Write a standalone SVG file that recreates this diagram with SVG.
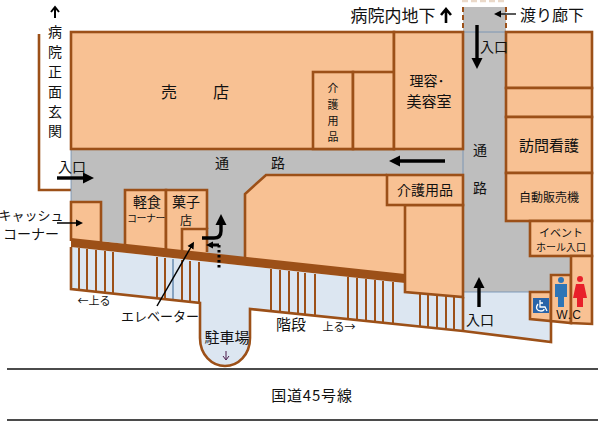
<svg xmlns="http://www.w3.org/2000/svg" width="600" height="423" viewBox="0 0 600 423">
<style>
text{font-family:"Noto Sans CJK JP","Liberation Sans",sans-serif;fill:#111;text-anchor:middle}
.r{fill:#F8C193;stroke:#9C5018;stroke-width:2.6;stroke-linejoin:miter}
.w{fill:none;stroke:#9C5018;stroke-width:2.6}
.s{fill:none;stroke:#9C5018;stroke-width:2}
.t{fill:none;stroke:#6A8CB0;stroke-width:.8}
.a{fill:none;stroke:#000;stroke-width:3.4}
.n{fill:none;stroke:#000;stroke-width:1.5}
.o{fill:#F8C193}
.f17{font-size:17px}.f16{font-size:16px}.f15{font-size:15px}.f14{font-size:14px}.f13{font-size:13px}.f12{font-size:12px}.f11{font-size:11px}.f10{font-size:10px}
</style>
<defs>
<marker id="big" markerUnits="userSpaceOnUse" markerWidth="12" markerHeight="12" refX="1" refY="6" orient="auto"><path d="M0,.5L11,6L0,11.5Z" fill="#000"/></marker>
<marker id="sm" markerUnits="userSpaceOnUse" markerWidth="8" markerHeight="8" refX="1" refY="4" orient="auto"><path d="M0,.5L7,4L0,7.5Z" fill="#000"/></marker>
</defs>

<g id="floors">
<path d="M71,150H463V7H506V221H530V256H571V275H551V292H463H405V205H387V175H266L245,194V262L207,258V190H125V244L101,241V202H71Z" fill="#BEBEBE"/>
<path d="M71,247L405,283V292L463,297V292H530V319L551,321V342L463,331L250,309V338C250,355 238,366 225,366C212,366 200,355 200,338V303L71,289Z" fill="#DCE6F1"/>
</g>

<g id="walls">
<path class="w" d="M39,34V190H71"/>
<path class="t" d="M71,150V202M463,150V176M463,32H506M463,292H530"/>
<path d="M463,7V30M506,7V30" fill="none" stroke="#9C5018" stroke-width="2" stroke-dasharray="5 3"/>
<path d="M462,1H507" fill="none" stroke="#EAD9C9" stroke-width="2.5" stroke-dasharray="6 3"/>
</g>

<g id="shop-baiten"><rect class="r" x="71" y="32" width="323" height="117"/><text class="f16" x="169" y="98">売</text><text class="f16" x="221" y="98">店</text></g>
<g id="shop-kaigo1"><rect class="r" x="313" y="72" width="40" height="77"/><rect class="r" x="353" y="72" width="41" height="77"/>
<text class="f11" x="333" y="92">介</text><text class="f11" x="333" y="109">護</text><text class="f11" x="333" y="125">用</text><text class="f11" x="333" y="141">品</text></g>
<g id="shop-riyo"><rect class="r" x="394" y="32" width="69" height="117"/><text class="f14" x="427" y="86">理容･</text><text class="f15" x="429" y="107">美容室</text></g>
<g id="right-top"><rect class="r" x="506" y="32" width="86" height="56"/><rect class="r" x="506" y="88" width="86" height="29"/></g>
<g id="shop-houmon"><rect class="r" x="506" y="117" width="86" height="56"/><text class="f15" x="549" y="151">訪問看護</text></g>
<g id="shop-jihanki"><rect class="r" x="506" y="173" width="86" height="48"/><text class="f12" x="549" y="202">自動販売機</text></g>
<g id="shop-event"><rect class="r" x="530" y="221" width="62" height="35"/><text class="f11" x="561" y="237">イベント</text><text class="f10" x="561" y="251">ホール入口</text></g>

<g id="big-block"><path class="o" d="M245,262V194L266,175H387V205H405V277Z"/><path class="w" d="M245,262V194L266,175H387"/></g>
<g id="shop-lower"><path class="r" d="M405,205H463V297L405,292Z"/></g>
<g id="shop-kaigo2"><rect class="r" x="387" y="175" width="76" height="30"/><text class="f14" x="425" y="195">介護用品</text></g>

<g id="shop-cash"><path class="o" d="M71,241V202H101V243Z"/><path class="w" d="M71,241V202H101V243"/></g>
<g id="shop-keishoku"><path class="o" d="M125,246V190H166V250Z"/><path class="w" d="M125,246V190H166V250"/><text class="f14" x="147" y="207">軽食</text><text class="f10" x="146" y="222" style="letter-spacing:-.5px">コーナー</text></g>
<g id="shop-kashi"><path class="o" d="M166,250V190H207V229H182V252Z"/><path class="w" d="M166,250V190H207V229"/><text class="f14" x="186" y="207">菓子</text><text class="f12" x="186" y="225">店</text></g>
<g id="elevator"><path class="o" d="M182,252V229H207V254Z"/><path class="w" d="M182,251V229H207V252"/></g>

<g id="band"><path d="M71,238L405,274V283L71,247Z" fill="#9C5018"/></g>

<g id="stairs">
<path class="s" d="M79,248V290M87,249V291M96,250V292M105,251V293M113,252V294M157,257V299M165,258V299M182,260V301M190,261V302M199,262V303M271,269V311M280,270V312M289,271V313M298,272V314M305,273V315M315,274V316M348,277V319M357,278V320M366,279V321M375,280V322M383,281V322M393,282V323M420,294V326M428,295V327M437,296V328M446,296V329M454,297V330"/>
<path d="M173,259V300" fill="none" stroke="#6A8CB0" stroke-width="1.5"/>
<path class="w" d="M71,247V289L200,303V338C200,355 212,366 225,366C238,366 250,355 250,338V309L463,331L551,342V321"/>
<path class="w" d="M463,297V331"/>
</g>

<g id="wc">
<path class="r" d="M530,319V292H551V321Z"/>
<path class="r" d="M551,321V275H571V323Z"/>
<path class="r" d="M571,323V256H592V324Z"/>
<rect x="533" y="298" width="16" height="15" fill="#2A64A8"/>
<path d="M540,300V307H545L547,311M543,303H540M538,304C535,308 537,311 541,311C543,311 544,310 544,309" fill="none" stroke="#fff" stroke-width="1.3"/>
<circle cx="561" cy="280" r="3" fill="#2E75B6"/><path d="M555,284H567V297H564V307H558V297H555Z" fill="#2E75B6"/>
<circle cx="580" cy="279" r="3" fill="#E8202A"/><path d="M576,284H584L587,298H583V307H577V298H573Z" fill="#E8202A"/>
<text x="569" y="319" style="font-family:'Liberation Sans',sans-serif;font-size:12px;letter-spacing:1px">W.C</text>
</g>

<g id="connectors">
<path class="a" d="M57,178H84" marker-end="url(#big)"/>
<path class="a" d="M445,161H399" marker-end="url(#big)"/>
<path class="a" d="M477,25V59" marker-end="url(#big)"/>
<path class="a" d="M479,307V287" marker-end="url(#big)"/>
<path class="a" d="M202,238H214Q221,238 221,231V224" marker-end="url(#big)"/>
<path d="M219,245H212" stroke="#000" stroke-width="3" fill="none" marker-end="url(#sm)"/>
<path d="M219,245V269" stroke="#000" stroke-width="3" stroke-dasharray="2.5 2.5" fill="none"/>
<path class="n" d="M157,306L191,247" marker-end="url(#sm)"/>
<path class="n" d="M57,223H77" marker-end="url(#sm)"/>
<path d="M516,14H500" stroke="#000" stroke-width="1.3" fill="none" marker-end="url(#sm)"/>
<path d="M55,18V7M51,12L55,7L59,12" fill="none" stroke="#000" stroke-width="2"/>
<path d="M446,23V9M441,15L446,9L451,15" fill="none" stroke="#000" stroke-width="2.6"/>
<path d="M226,359V351M223,356L226,360L229,356" fill="none" stroke="#4a1a4a" stroke-width="1"/>
</g>

<g id="labels">
<text class="f14" x="55" y="37">病</text><text class="f14" x="55" y="57">院</text><text class="f14" x="55" y="77">正</text><text class="f14" x="55" y="97">面</text><text class="f14" x="55" y="117">玄</text><text class="f14" x="55" y="136">関</text>
<text class="f14" x="72" y="172">入口</text>
<text class="f14" x="222" y="168">通</text><text class="f14" x="278" y="168">路</text>
<text class="f14" x="480" y="155">通</text><text class="f14" x="480" y="193">路</text>
<text class="f17" x="393" y="22">病院内地下</text>
<text class="f16" x="552" y="21">渡り廊下</text>
<text class="f14" x="494" y="52">入口</text>
<text class="f14" x="480" y="325">入口</text>
<text class="f13" x="31" y="220">キャッシュ</text>
<text class="f14" x="31" y="239">コーナー</text>
<text class="f13" x="160" y="321">エレベーター</text>
<text class="f15" x="227" y="343">駐車場</text>
<text class="f15" x="291" y="330">階段</text>
<text class="f11" x="94" y="305">←上る</text>
<text class="f11" x="339" y="331">上る→</text>
</g>

<g id="road">
<path d="M7,369H598M7,420H598" stroke="#111" stroke-width="1.4" fill="none"/>
<text class="f15" x="312" y="401" style="letter-spacing:.8px">国道45号線</text>
</g>
</svg>
